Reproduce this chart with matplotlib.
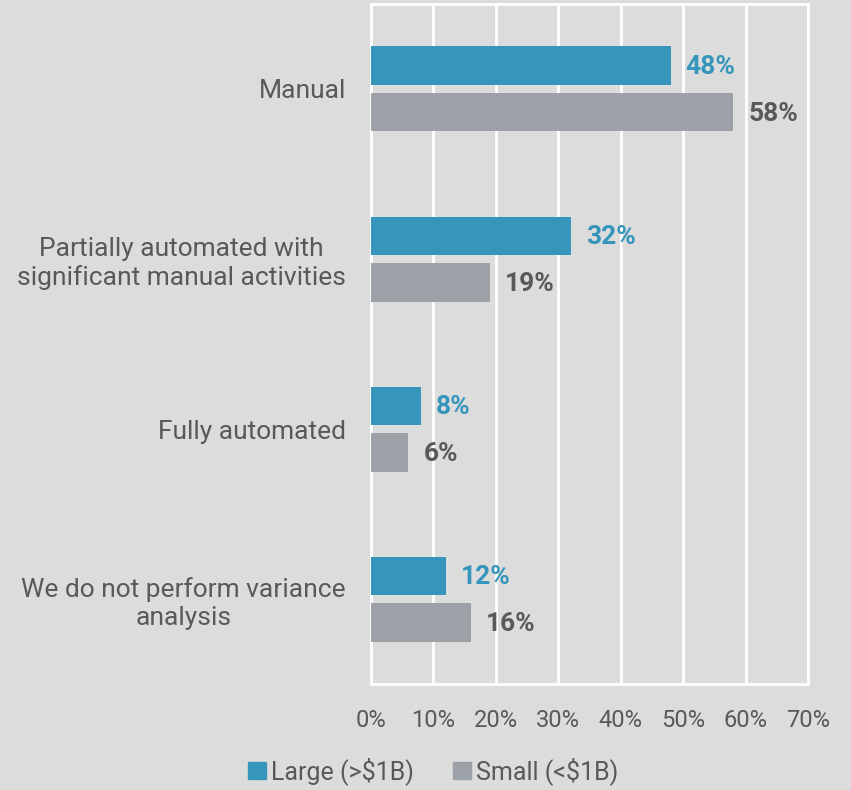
import matplotlib.pyplot as plt
from matplotlib.patches import Patch

categories = [
    "Manual",
    "Partially automated with\nsignificant manual activities",
    "Fully automated",
    "We do not perform variance\nanalysis",
]
large = [48, 32, 8, 12]
small = [58, 19, 6, 16]
series_names = ["Large (>$1B)", "Small (<$1B)"]
x_ticks = [0, 10, 20, 30, 40, 50, 60, 70]

BG = "#dcdcdc"
BLUE = "#3595bb"
GREY = "#9ca0a7"
TEXT = "#595959"

plt.rcParams["font.family"] = ["Roboto", "DejaVu Sans"]

fig = plt.figure(figsize=(8.51, 7.90), dpi=100, facecolor=BG)
ax = fig.add_axes([0.436, 0.134, 0.5135, 0.861], facecolor=BG)

bar_h = 0.225
gap = 0.05
pos = list(range(len(categories)))
y_large = [p - (bar_h + gap) / 2 for p in pos]
y_small = [p + (bar_h + gap) / 2 for p in pos]

ax.barh(y_large, large, height=bar_h, color=BLUE, zorder=3)
ax.barh(y_small, small, height=bar_h, color=GREY, zorder=3)

# value labels next to each bar
for y, v in zip(y_large, large):
    ax.text(v + 2.4, y + 0.01, f"{v}%", va="center", ha="left", color=BLUE,
            fontsize=19, fontweight="bold")
for y, v in zip(y_small, small):
    ax.text(v + 2.4, y + 0.01, f"{v}%", va="center", ha="left", color=TEXT,
            fontsize=19, fontweight="bold")

ax.set_xlim(0, 70)
ax.set_ylim(3.5, -0.5)
ax.set_xticks(x_ticks)
ax.set_xticklabels([f"{t}%" for t in x_ticks])
ax.set_yticks(pos)
ax.set_yticklabels(categories, ha="right", multialignment="center")
ax.tick_params(axis="y", length=0, pad=18, labelsize=19, labelcolor=TEXT)
ax.tick_params(axis="x", length=0, pad=18, labelsize=17, labelcolor=TEXT)

ax.grid(axis="x", color="white", linewidth=2, zorder=1)
for s in ax.spines.values():
    s.set_color("white")
    s.set_linewidth(2)

handles = [Patch(color=BLUE), Patch(color=GREY)]
fig.legend(handles, series_names, loc="center", bbox_to_anchor=(0.509, 0.024),
           ncol=2, frameon=False, fontsize=18, labelcolor=TEXT,
           handlelength=0.7, handleheight=0.7, handletextpad=0.2,
           columnspacing=1.6)

fig.savefig("out.png", dpi=100, facecolor=BG)
